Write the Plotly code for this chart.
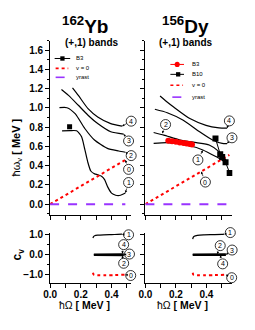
import plotly.graph_objects as go

W, H = 255, 330

# ---------------- data: 162Yb (left) ----------------
yb_c4_x = [0.146, 0.184, 0.247, 0.310, 0.395, 0.468]
yb_c4_y = [1.209, 1.131, 0.993, 0.907, 0.838, 0.811]
yb_c3_x = [0.074, 0.120, 0.184, 0.247, 0.310, 0.395, 0.479]
yb_c3_y = [1.193, 1.131, 1.028, 0.925, 0.838, 0.753, 0.729]
yb_c2_x = [0.061, 0.110, 0.163, 0.226, 0.289, 0.373, 0.447, 0.490]
yb_c2_y = [1.003, 1.003, 0.941, 0.787, 0.667, 0.580, 0.553, 0.540]
yb_c1_x = [0.078, 0.130, 0.173, 0.205, 0.226, 0.245, 0.265, 0.290, 0.310, 0.335,
           0.355, 0.375, 0.400, 0.427, 0.450, 0.470, 0.490]
yb_c1_y = [0.763, 0.765, 0.763, 0.700, 0.570, 0.440, 0.345, 0.315, 0.306, 0.290,
           0.255, 0.180, 0.115, 0.093, 0.090, 0.100, 0.117]
yb_b3_x = [0.127]
yb_b3_y = [0.804]
yb_v0_x = [0.0, 0.49]
yb_v0_y = [0.0, 0.46]
yb_yrast_x = [0.0, 0.49]
yb_yrast_y = [0.0, 0.0]

# c_v (left)
ybc_c1_x = [0.279, 0.283, 0.290, 0.310, 0.350, 0.400, 0.440, 0.468]
ybc_c1_y = [0.83, 0.90, 0.94, 0.97, 0.99, 1.00, 1.01, 1.02]
ybc_c234_x = [0.285, 0.480]
ybc_c2_y = [-0.03, -0.05]
ybc_c3_y = [0.0, 0.0]
ybc_c4_y = [0.03, 0.04]
ybc_c0_x = [0.279, 0.285, 0.490]
ybc_c0_y = [-0.90, -1.00, -1.00]

# ---------------- data: 156Dy (right) ----------------
dy_c4_x = [0.096, 0.140, 0.185, 0.291, 0.397, 0.482, 0.535]
dy_c4_y = [1.124, 1.065, 1.010, 0.890, 0.820, 0.794, 0.790]
dy_c3_x = [0.062, 0.143, 0.248, 0.355, 0.440, 0.503, 0.535]
dy_c3_y = [0.987, 0.951, 0.873, 0.753, 0.667, 0.632, 0.630]
dy_c2_x = [0.054, 0.121, 0.227, 0.334, 0.418, 0.482, 0.527]
dy_c2_y = [0.745, 0.718, 0.667, 0.639, 0.615, 0.546, 0.460]
dy_c1_x = [0.054, 0.143, 0.270, 0.376, 0.461, 0.510]
dy_c1_y = [0.632, 0.639, 0.615, 0.564, 0.495, 0.450]
dy_b3_x = [0.150, 0.175, 0.200, 0.225, 0.250, 0.270, 0.290, 0.305]
dy_b3_y = [0.660, 0.655, 0.648, 0.642, 0.635, 0.630, 0.625, 0.620]
dy_b10_x = [0.459, 0.490, 0.503, 0.525, 0.552]
dy_b10_y = [0.684, 0.520, 0.490, 0.435, 0.325]
dy_v0_x = [0.0, 0.55]
dy_v0_y = [0.0, 0.512]
dy_yrast_x = [0.0, 0.546]
dy_yrast_y = [0.0, 0.0]

# c_v (right)
dyc_c1_x = [0.310, 0.313, 0.320, 0.340, 0.380, 0.440, 0.500, 0.516]
dyc_c1_y = [0.78, 0.86, 0.92, 0.96, 0.99, 1.00, 1.01, 1.02]
dyc_c234_x = [0.310, 0.527]
dyc_c2_y = [0.03, 0.04]
dyc_c3_y = [0.0, 0.0]
dyc_c4_y = [-0.03, -0.04]
dyc_c0_x = [0.310, 0.315, 0.527]
dyc_c0_y = [-0.90, -1.00, -1.00]

# curve-label markers: (text, label x, label y, target x, target y)
labels_yb_top = [("4", 0.528, 0.863, 0.468, 0.811), ("3", 0.511, 0.657, 0.479, 0.729),
                 ("2", 0.528, 0.505, 0.490, 0.540), ("0", 0.511, 0.362, 0.490, 0.460),
                 ("1", 0.511, 0.225, 0.490, 0.117)]
labels_yb_bot = [("1", 0.511, 0.99, 0.468, 1.02), ("4", 0.479, 0.50, 0.470, 0.05),
                 ("3", 0.517, 0.03, 0.480, 0.0), ("2", 0.479, -0.43, 0.470, -0.05),
                 ("0", 0.525, -1.04, 0.490, -1.0)]
labels_dy_top = [("4", 0.550, 0.866, 0.535, 0.790), ("3", 0.567, 0.690, 0.535, 0.630),
                 ("2", 0.132, 0.828, 0.111, 0.735), ("1", 0.344, 0.460, 0.376, 0.560),
                 ("0", 0.393, 0.230, 0.365, 0.340)]
labels_dy_bot = [("1", 0.556, 1.10, 0.516, 1.02), ("2", 0.490, 0.45, 0.470, 0.03),
                 ("3", 0.568, 0.23, 0.527, 0.0), ("4", 0.506, -0.46, 0.490, -0.03),
                 ("0", 0.565, -1.15, 0.527, -1.0)]

RED = "#ff0000"
PURPLE = "#9933ff"
FONT = "Liberation Sans, Arial, sans-serif"

fig = go.Figure()


def line(x, y, xa, ya, color="black", width=1.2, dash="solid"):
    fig.add_trace(go.Scatter(x=x, y=y, xaxis=xa, yaxis=ya, mode="lines",
                             line=dict(color=color, width=width, dash=dash, shape="spline", smoothing=0.6),
                             showlegend=False, hoverinfo="skip"))


# top-left
for cx, cy in [(yb_c4_x, yb_c4_y), (yb_c3_x, yb_c3_y), (yb_c2_x, yb_c2_y), (yb_c1_x, yb_c1_y)]:
    line(cx, cy, "x", "y")
line(yb_v0_x, yb_v0_y, "x", "y", RED, 2, "dot")
line(yb_yrast_x, yb_yrast_y, "x", "y", PURPLE, 2, "dash")
fig.add_trace(go.Scatter(x=yb_b3_x, y=yb_b3_y, xaxis="x", yaxis="y", mode="markers",
                         marker=dict(symbol="square", size=5, color="black"), showlegend=False))
# bottom-left
line(ybc_c1_x, ybc_c1_y, "x2", "y2")
for cy in [ybc_c2_y, ybc_c3_y, ybc_c4_y]:
    line(ybc_c234_x, cy, "x2", "y2", width=1.3)
line(ybc_c0_x, ybc_c0_y, "x2", "y2", RED, 2, "dot")

# top-right
for cx, cy in [(dy_c4_x, dy_c4_y), (dy_c3_x, dy_c3_y), (dy_c2_x, dy_c2_y), (dy_c1_x, dy_c1_y)]:
    line(cx, cy, "x3", "y3")
line(dy_v0_x, dy_v0_y, "x3", "y3", RED, 2, "dot")
line(dy_yrast_x, dy_yrast_y, "x3", "y3", PURPLE, 2, "dash")
fig.add_trace(go.Scatter(x=dy_b3_x, y=dy_b3_y, xaxis="x3", yaxis="y3", mode="markers",
                         marker=dict(symbol="circle", size=6, color=RED), showlegend=False))
fig.add_trace(go.Scatter(x=dy_b10_x, y=dy_b10_y, xaxis="x3", yaxis="y3", mode="lines+markers",
                         line=dict(color="black", width=1),
                         marker=dict(symbol="square", size=6, color="black"), showlegend=False))
# bottom-right
line(dyc_c1_x, dyc_c1_y, "x4", "y4")
for cy in [dyc_c2_y, dyc_c3_y, dyc_c4_y]:
    line(dyc_c234_x, cy, "x4", "y4", width=1.3)
line(dyc_c0_x, dyc_c0_y, "x4", "y4", RED, 2, "dot")

annotations = []


def add_labels(items, xa, ya):
    fig.add_trace(go.Scatter(x=[it[1] for it in items], y=[it[2] for it in items],
                             xaxis=xa, yaxis=ya, mode="markers", cliponaxis=False,
                             marker=dict(symbol="circle", size=10, color="white",
                                         line=dict(color="black", width=0.8)),
                             showlegend=False, hoverinfo="skip"))
    for t, lx, ly, tx, ty in items:
        annotations.append(dict(x=tx, y=ty, ax=lx, ay=ly, xref=xa, yref=ya, axref=xa, ayref=ya,
                                text=t, font=dict(family=FONT, size=7, color="black"),
                                borderpad=0, showarrow=True, arrowhead=2, arrowsize=0.7,
                                arrowwidth=0.7, arrowcolor="black", startstandoff=2))


add_labels(labels_yb_top, "x", "y")
add_labels(labels_yb_bot, "x2", "y2")
add_labels(labels_dy_top, "x3", "y3")
add_labels(labels_dy_bot, "x4", "y4")


def px(x):
    return x / W


def py(y):
    return 1 - y / H


tickfont = dict(family=FONT, size=10, color="black", weight="bold")
xl_dom = [px(44.3), px(128.0)]
xr_dom = [px(142.3), px(231.8)]
yt_dom = [py(214), py(38)]
yb_dom = [py(282.7), py(231.7)]


def xax(dom, rng, anchor, labels):
    return dict(domain=dom, range=rng, anchor=anchor, showline=True, linecolor="black", linewidth=1,
                ticks="outside", ticklen=4, tickwidth=1, tickcolor="black", dtick=0.2, tick0=0,
                minor=dict(dtick=0.1, ticks="outside", ticklen=4, tickcolor="black"),
                showgrid=False, zeroline=False, showticklabels=labels, tickfont=tickfont,
                tickformat=".1f", ticklabelstandoff=-2)


def yax(dom, rng, anchor, labels, dt, mdt):
    return dict(domain=dom, range=rng, anchor=anchor, showline=True, linecolor="black", linewidth=1,
                ticks="outside", ticklen=4, tickwidth=1, tickcolor="black", dtick=dt, tick0=0,
                minor=dict(dtick=mdt, ticks="outside", ticklen=2, tickcolor="black"),
                showgrid=False, zeroline=False, showticklabels=labels, tickfont=tickfont,
                tickformat=".1f")


fig.update_layout(
    width=W, height=H, margin=dict(l=0, r=0, t=0, b=0),
    paper_bgcolor="white", plot_bgcolor="white", showlegend=False,
    xaxis=xax(xl_dom, [0, 0.53], "y", False),
    yaxis=yax(yt_dom, [-0.113, 1.70], "x", True, 0.2, 0.1),
    xaxis2=xax(xl_dom, [0, 0.53], "y2", True),
    yaxis2=yax(yb_dom, [-1.42, 1.10], "x2", True, 1.0, 0.5),
    xaxis3=xax(xr_dom, [0, 0.57], "y3", False),
    yaxis3=yax(yt_dom, [-0.113, 1.70], "x3", False, 0.2, 0.1),
    xaxis4=xax(xr_dom, [0, 0.57], "y4", True),
    yaxis4=yax(yb_dom, [-1.42, 1.10], "x4", False, 1.0, 0.5),
)


# titles and axis titles
def text(t, x, y, size, angle=0, anchor="center"):
    annotations.append(dict(text=t, x=px(x), y=py(y), xref="paper", yref="paper", showarrow=False,
                            xanchor=anchor, yanchor="middle", textangle=angle,
                            font=dict(family=FONT, size=size, color="black")))


text("<b><sup>162</sup>Yb</b>", 80, 22, 19)
text("<b><sup>156</sup>Dy</b>", 184, 22, 19)
text("<b>(+,1) bands</b>", 87, 40, 10)
text("<b>(+,1) bands</b>", 184, 40, 10)
text("ħω<sub>v</sub> <b>[ MeV ]</b>", 10, 146, 11, -90)
text("<b>c<sub>v</sub></b>", 11, 254, 12, -90)
text("ħΩ <b>[ MeV ]</b>", 80, 305, 10.5)
text("ħΩ <b>[ MeV ]</b>", 180, 305, 10.5)

# legends (drawn in paper space)
shapes = []


def lseg(x0, x1, y, color, width, dash):
    shapes.append(dict(type="line", xref="paper", yref="paper", x0=px(x0), x1=px(x1), y0=py(y), y1=py(y),
                       line=dict(color=color, width=width, dash=dash)))


def lmark(kind, x, y, r, color):
    shapes.append(dict(type=kind, xref="paper", yref="paper", x0=px(x - r), x1=px(x + r),
                       y0=py(y + r), y1=py(y - r), fillcolor=color, line=dict(color=color, width=0)))


# left legend
lseg(49, 65, 56, "black", 1, "solid"); lmark("rect", 57, 56, 2.2, "black")
lseg(50, 63, 66, RED, 1.6, "dot")
lseg(50, 63, 75, PURPLE, 1.6, "dash")
text("B3", 69, 56, 6, anchor="left")
text("v = 0", 69, 66, 6, anchor="left")
text("yrast", 69, 75, 6, anchor="left")
# right legend
lseg(168, 182, 62, RED, 1, "solid"); lmark("circle", 175, 62, 2.6, RED)
lseg(168, 182, 72, "black", 1, "solid"); lmark("rect", 176, 72, 2.2, "black")
lseg(168, 181, 83, RED, 1.6, "dot")
lseg(170, 183, 95, PURPLE, 1.6, "dash")
text("B3", 188, 62, 6, anchor="left")
text("B10", 188, 72, 6, anchor="left")
text("v = 0", 188, 83, 6, anchor="left")
text("yrast", 188, 95, 6, anchor="left")

fig.update_layout(annotations=annotations, shapes=shapes)
fig.write_html("out.html", config={"displayModeBar": False},
               post_script="document.body.style.margin='0';document.body.style.overflow='hidden';")
